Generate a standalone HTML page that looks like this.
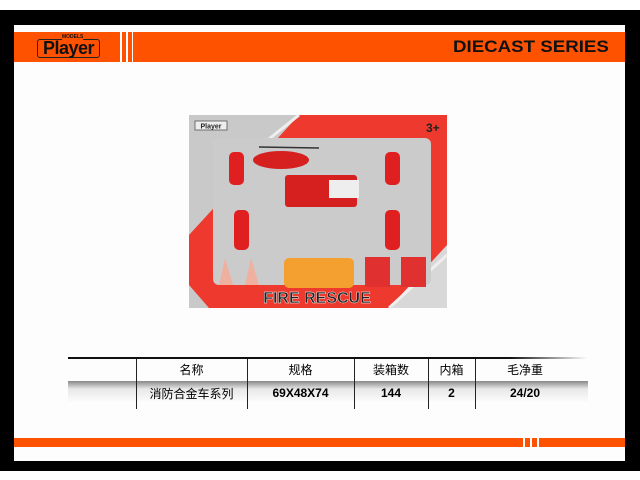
<!DOCTYPE html>
<html><head><meta charset="utf-8"><style>
html,body{margin:0;padding:0;background:#fff;}
body{width:640px;height:480px;position:relative;overflow:hidden;font-family:"Liberation Sans","Noto Sans CJK SC",sans-serif;}
.a{position:absolute;}
</style></head><body>
<div class="a" style="left:0;top:10px;width:640px;height:461px;background:#000;"></div>
<div class="a" style="left:14px;top:25px;width:611px;height:436px;background:#fdfdfd;"></div>
<div class="a" style="left:14px;top:32px;width:611px;height:30px;background:#ff5200;"></div>
<div class="a" style="left:120px;top:32px;width:2px;height:30px;background:#fff;"></div>
<div class="a" style="left:126px;top:32px;width:2px;height:30px;background:#fff;"></div>
<div class="a" style="left:132px;top:32px;width:1px;height:30px;background:#fff;"></div>
<div class="a" style="left:37px;top:39px;width:61px;height:17px;border:1.5px solid #222;border-radius:3px;font-weight:bold;font-size:18px;line-height:17px;text-align:center;color:#111;letter-spacing:-0.5px;">Player</div>
<div class="a" style="left:62px;top:34px;font-size:5px;font-weight:bold;color:#111;background:#ff5200;">MODELS</div>
<div class="a" style="left:453px;top:37px;font-size:17px;font-weight:bold;color:#111;transform:scaleX(1.1);transform-origin:left;">DIECAST SERIES</div>

<svg class="a" style="left:189px;top:115px" width="258" height="193" viewBox="0 0 258 193">
<rect width="258" height="193" fill="#ee3a2e"/>
<polygon points="0,0 110,0 0,120" fill="#c9c9c9"/>
<polygon points="0,193 0,170 20,193" fill="#c9c9c9"/>
<polygon points="200,193 258,130 258,193" fill="#d8d8d8"/>
<line x1="60" y1="40" x2="110" y2="0" stroke="#eee" stroke-width="3"/>
<line x1="200" y1="193" x2="258" y2="140" stroke="#eee" stroke-width="3"/>
<rect x="6" y="6" width="32" height="9" fill="#eee" stroke="#555" stroke-width="0.8"/>
<text x="22" y="13.5" font-size="7" font-weight="bold" text-anchor="middle" fill="#222" font-family="Liberation Sans">Player</text>
<text x="237" y="17" font-size="12" font-weight="bold" fill="#222" font-family="Liberation Sans">3+</text>
<rect x="24" y="23" width="218" height="147" rx="6" fill="#cbcbcb"/>
<ellipse cx="92" cy="45" rx="28" ry="9" fill="#d62020"/>
<line x1="70" y1="32" x2="130" y2="33" stroke="#333" stroke-width="1.5"/>
<rect x="96" y="60" width="72" height="32" rx="3" fill="#d62020"/>
<rect x="140" y="65" width="30" height="18" fill="#eee"/>
<rect x="95" y="143" width="70" height="30" rx="5" fill="#f4a030"/>
<rect x="40" y="37" width="15" height="33" rx="5" fill="#e02020"/>
<rect x="196" y="37" width="15" height="33" rx="5" fill="#e02020"/>
<rect x="45" y="95" width="15" height="40" rx="5" fill="#e02020"/>
<rect x="196" y="95" width="15" height="40" rx="5" fill="#e02020"/>
<polygon points="30,170 36,143 44,170" fill="#f0b0a0"/>
<polygon points="56,170 62,143 70,170" fill="#f0b0a0"/>
<rect x="176" y="142" width="25" height="30" fill="#e03030"/>
<rect x="212" y="142" width="25" height="30" fill="#e03030"/>
<text x="128" y="188" font-size="16" font-weight="bold" text-anchor="middle" fill="#222" stroke="#fff" stroke-width="0.4" font-family="Liberation Sans">FIRE RESCUE</text>
</svg>

<div class="a" style="left:68px;top:357px;width:520px;height:2px;background:linear-gradient(90deg,#111 85%,#fff);"></div>
<div class="a" style="left:68px;top:381px;width:520px;height:23px;background:linear-gradient(180deg,#888,#e8e8e8 35%,#fff);"></div>
<div class="a" style="left:136px;top:359px;width:1px;height:50px;background:#222;"></div>
<div class="a" style="left:247px;top:359px;width:1px;height:50px;background:#222;"></div>
<div class="a" style="left:354px;top:359px;width:1px;height:50px;background:#222;"></div>
<div class="a" style="left:428px;top:359px;width:1px;height:50px;background:#222;"></div>
<div class="a" style="left:475px;top:359px;width:1px;height:50px;background:#222;"></div>
<div class="a" style="top:361px;left:136px;width:111px;text-align:center;font-size:12px;">名称</div>
<div class="a" style="top:361px;left:247px;width:107px;text-align:center;font-size:12px;">规格</div>
<div class="a" style="top:361px;left:354px;width:74px;text-align:center;font-size:12px;">装箱数</div>
<div class="a" style="top:361px;left:428px;width:47px;text-align:center;font-size:12px;">内箱</div>
<div class="a" style="top:361px;left:475px;width:100px;text-align:center;font-size:12px;">毛净重</div>
<div class="a" style="top:385px;left:136px;width:111px;text-align:center;font-size:12px;">消防合金车系列</div>
<div class="a" style="top:386px;left:247px;width:107px;text-align:center;font-size:12px;font-weight:bold;">69X48X74</div>
<div class="a" style="top:386px;left:354px;width:74px;text-align:center;font-size:12px;font-weight:bold;">144</div>
<div class="a" style="top:386px;left:428px;width:47px;text-align:center;font-size:12px;font-weight:bold;">2</div>
<div class="a" style="top:386px;left:475px;width:100px;text-align:center;font-size:12px;font-weight:bold;">24/20</div>

<div class="a" style="left:14px;top:438px;width:611px;height:9px;background:#ff5200;"></div>
<div class="a" style="left:523px;top:438px;width:2px;height:9px;background:#fff;"></div>
<div class="a" style="left:530px;top:438px;width:2px;height:9px;background:#fff;"></div>
<div class="a" style="left:537px;top:438px;width:2px;height:9px;background:#fff;"></div>
</body></html>
